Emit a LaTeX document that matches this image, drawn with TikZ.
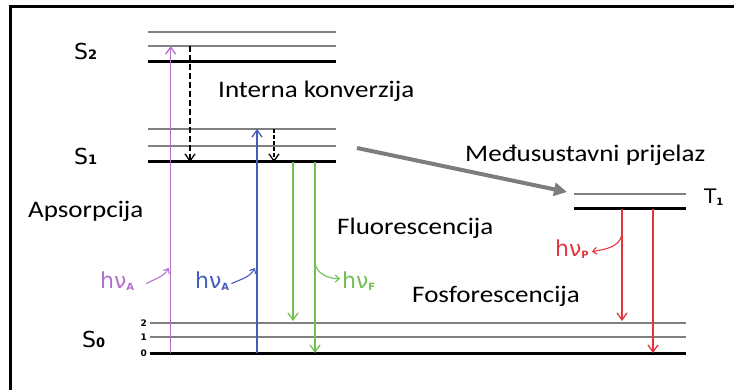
\documentclass[tikz,border=0pt]{standalone}
\usepackage{fontspec}
\setmainfont{Carlito}
\newfontfamily\lvlfont{DejaVu Sans}
\usetikzlibrary{arrows.meta}
\definecolor{absviolet}{RGB}{178,112,204}
\definecolor{absblue}{RGB}{68,92,190}
\definecolor{fluogreen}{RGB}{112,192,82}
\definecolor{phosred}{RGB}{228,52,62}
\definecolor{iscgray}{RGB}{125,125,125}
\newcommand{\wide}[1]{\scalebox{1.14}[1]{#1}}
\newcommand{\lsub}[1]{{\bfseries\fontsize{13}{14}\selectfont #1}}
\newcommand{\hsub}[1]{\raisebox{-2pt}{\bfseries\fontsize{10}{11}\selectfont #1}}

\begin{document}
\begin{tikzpicture}[x=1pt,y=-1pt,
  vib/.style={draw=black!50, line width=1.4pt},
  zero/.style={draw=black, line width=3pt},
  lbl/.style={font=\fontsize{23.7}{28}\selectfont, inner sep=0pt, anchor=base west},
  lvl/.style={font=\lvlfont\fontsize{22}{24}\selectfont, inner sep=0pt, anchor=base west},
  vnum/.style={font=\lvlfont\bfseries\fontsize{9}{10}\selectfont, inner sep=0pt, anchor=east},
  hnu/.style={font=\lvlfont\fontsize{22}{24}\selectfont, inner sep=0pt, anchor=base west},
  trans/.style={line width=1.3pt, -{Straight Barb[length=7pt,width=10pt]}},
  nonrad/.style={trans, dash pattern=on 6pt off 3pt},
  feed/.style={line width=1.1pt, -{Straight Barb[length=4pt,width=7pt]}},
  isc/.style={draw=iscgray, line width=4pt, -{Triangle[length=13pt,width=13pt]}}]
  \useasboundingbox (0,0) rectangle (734,390);
  \draw[line width=3pt] (10,400) |- (745,7);

  \foreach \n/\xa/\xb/\y/\k in {S2c/148/336/32/vib, S2b/148/336/46/vib, S2a/148/336/62/zero,
      S1c/148/336/129/vib, S1b/148/336/146/vib, S1a/148/336/162/zero,
      T1b/574/686/194/vib, T1a/574/686/209/zero,
      S0c/150/686/323/vib, S0b/150/686/337/vib, S0a/150/686/353/zero}
    {\coordinate (\n) at (\xa,\y); \draw[\k] (\n) -- (\xb,\y);}

  \node[lvl] (s2) at (74,60) {S\lsub{2}};
  \node[lvl] (s1) at (74,165) {S\lsub{1}};
  \node[lvl] (s0) at (82,347) {S\lsub{0}};
  \node[lvl, font=\lvlfont\fontsize{20}{22}\selectfont] (t1) at (704,204) {T\hsub{1}};
  \node[vnum] (v2) at ([xshift=-3pt]S0c) {2};
  \node[vnum] (v1) at ([xshift=-3pt]S0b) {1};
  \node[vnum] (v0) at ([xshift=-3pt]S0a) {0};

  \node[lbl] (ic) at (218,98) {\wide{Interna konverzija}};
  \node[lbl] (iscl) at (465,162) {\wide{Međusustavni prijelaz}};
  \node[lbl] (abs) at (28,218) {\wide{Apsorpcija}};
  \node[lbl] (fluo) at (337,235) {\wide{Fluorescencija}};
  \node[lbl] (phos) at (412,302) {\wide{Fosforescencija}};

  \coordinate (pA) at (170.7,0);
  \coordinate (pIC) at (190,0);
  \coordinate (pB) at (257,0);
  \coordinate (pV) at (274,0);
  \coordinate (pF1) at (293,0);
  \coordinate (pF2) at (315,0);
  \coordinate (pP1) at (622,0);
  \coordinate (pP2) at (653,0);

  \draw[trans, absviolet] (pA |- S0a) -- (pA |- S2b);
  \draw[nonrad] (pIC |- S2b) -- (pIC |- S1a);
  \draw[trans, absblue] (pB |- S0a) -- (pB |- S1c);
  \draw[nonrad, dash pattern=on 4pt off 2pt] (pV |- S1c) -- (pV |- S1a);
  \draw[trans, fluogreen] (pF1 |- S1a) -- ([yshift=2pt]pF1 |- S0c);
  \draw[trans, fluogreen] (pF2 |- S1a) -- (pF2 |- S0a);
  \draw[trans, phosred] (pP1 |- T1a) -- ([yshift=2pt]pP1 |- S0c);
  \draw[trans, phosred] (pP2 |- T1a) -- (pP2 |- S0a);

  \coordinate (iscS) at (357,148);
  \coordinate (iscE) at (567,192);
  \draw[isc] (iscS) -- (iscE);

  \node[hnu, text=absviolet] (hA1) at (100,288) {hν\hsub{A}};
  \node[hnu, text=absblue] (hA2) at (195,288) {hν\hsub{A}};
  \node[hnu, text=fluogreen] (hF) at (342,288) {hν\hsub{F}};
  \node[hnu, text=phosred] (hP) at (555,257) {hν\hsub{P}};
  \coordinate (mA1) at (pA |- 0,268);
  \coordinate (mA2) at (pB |- 0,268);
  \coordinate (mF) at (pF2 |- 0,263);
  \coordinate (mP) at (pP1 |- 0,234);
  \draw[feed, absviolet] ([xshift=12pt,yshift=-3pt]hA1.east) to[out=30,in=-120] ([xshift=-2pt]mA1);
  \draw[feed, absblue] ([xshift=2pt,yshift=-3pt]hA2.east) to[out=25,in=-120] ([xshift=-2pt]mA2);
  \draw[feed, fluogreen] (mF) to[out=-80,in=180] ([xshift=-2pt,yshift=2pt]hF.west);
  \draw[feed, phosred] (mP) to[out=-100,in=10] ([xshift=3pt,yshift=-2pt]hP.east);
\end{tikzpicture}
\end{document}
